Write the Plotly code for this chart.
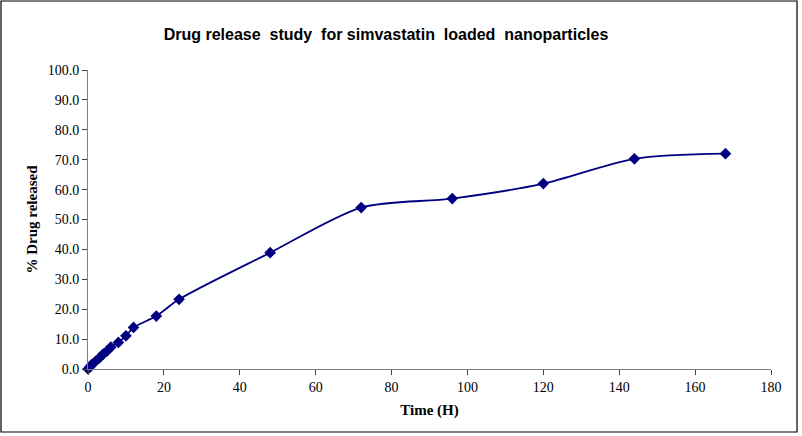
import plotly.graph_objects as go

time_h = [0, 0.5, 1, 2, 3, 4, 5, 6, 8, 10, 12, 18, 24, 48, 72, 96, 120, 144, 168]
drug_released = [0.0, 0.7, 1.5, 2.6, 3.7, 5.0, 6.0, 7.3, 8.9, 11.1, 13.9, 17.7, 23.3, 38.9, 54.0, 57.0, 62.0, 70.3, 72.0]

x_ticks = list(range(0, 181, 20))
y_ticks = list(range(0, 101, 10))

W, H = 802, 436
L, R, T, B = 88, 31, 70, 67
pw, ph = W - L - R, H - T - B

fig = go.Figure()
fig.add_trace(go.Scatter(
    x=time_h, y=drug_released, mode="lines+markers",
    line=dict(color="#000080", width=1.8, shape="spline", smoothing=0.8),
    marker=dict(symbol="diamond", size=9, color="#000080"),
    cliponaxis=False,
    showlegend=False,
))

tick_font = dict(family="Liberation Serif, Times New Roman, serif", size=14, color="black")
title_font = dict(family="Liberation Serif, Times New Roman, serif", size=15, color="black")
fig.update_layout(
    width=W, height=H,
    margin=dict(l=L, r=R, t=T, b=B),
    paper_bgcolor="white", plot_bgcolor="white",
    title=dict(text="<b>Drug release  study  for simvastatin  loaded  nanoparticles</b>",
               x=386 / W, xanchor="center", y=1 - 34 / H, yanchor="middle",
               font=dict(family="Liberation Sans, Arial, sans-serif", size=16, color="black")),
    xaxis=dict(range=[0, 180], tickvals=x_ticks, ticks="outside", ticklen=5,
               showline=True, linecolor="#808080", linewidth=1, showgrid=False,
               zeroline=False, tickfont=tick_font,
               title=dict(text="<b>Time (H)</b>", font=title_font, standoff=10)),
    yaxis=dict(range=[0, 100], tickvals=y_ticks, tickformat=".1f", ticks="outside", ticklen=5,
               showline=True, linecolor="#808080", linewidth=1, showgrid=False,
               zeroline=False, tickfont=tick_font,
               title=dict(text="<b>% Drug released</b>", font=title_font, standoff=6)),
)
fig.add_shape(type="rect", xref="paper", yref="paper",
              x0=(1 - L) / pw, x1=(797 - L) / pw,
              y0=(H - B - 432) / ph, y1=(H - B - 1) / ph,
              line=dict(color="black", width=1.2), fillcolor="rgba(0,0,0,0)", layer="below")
fig.write_html("out.html", config={"displayModeBar": False},
               post_script="document.body.style.margin='0';document.body.style.overflow='hidden';")
